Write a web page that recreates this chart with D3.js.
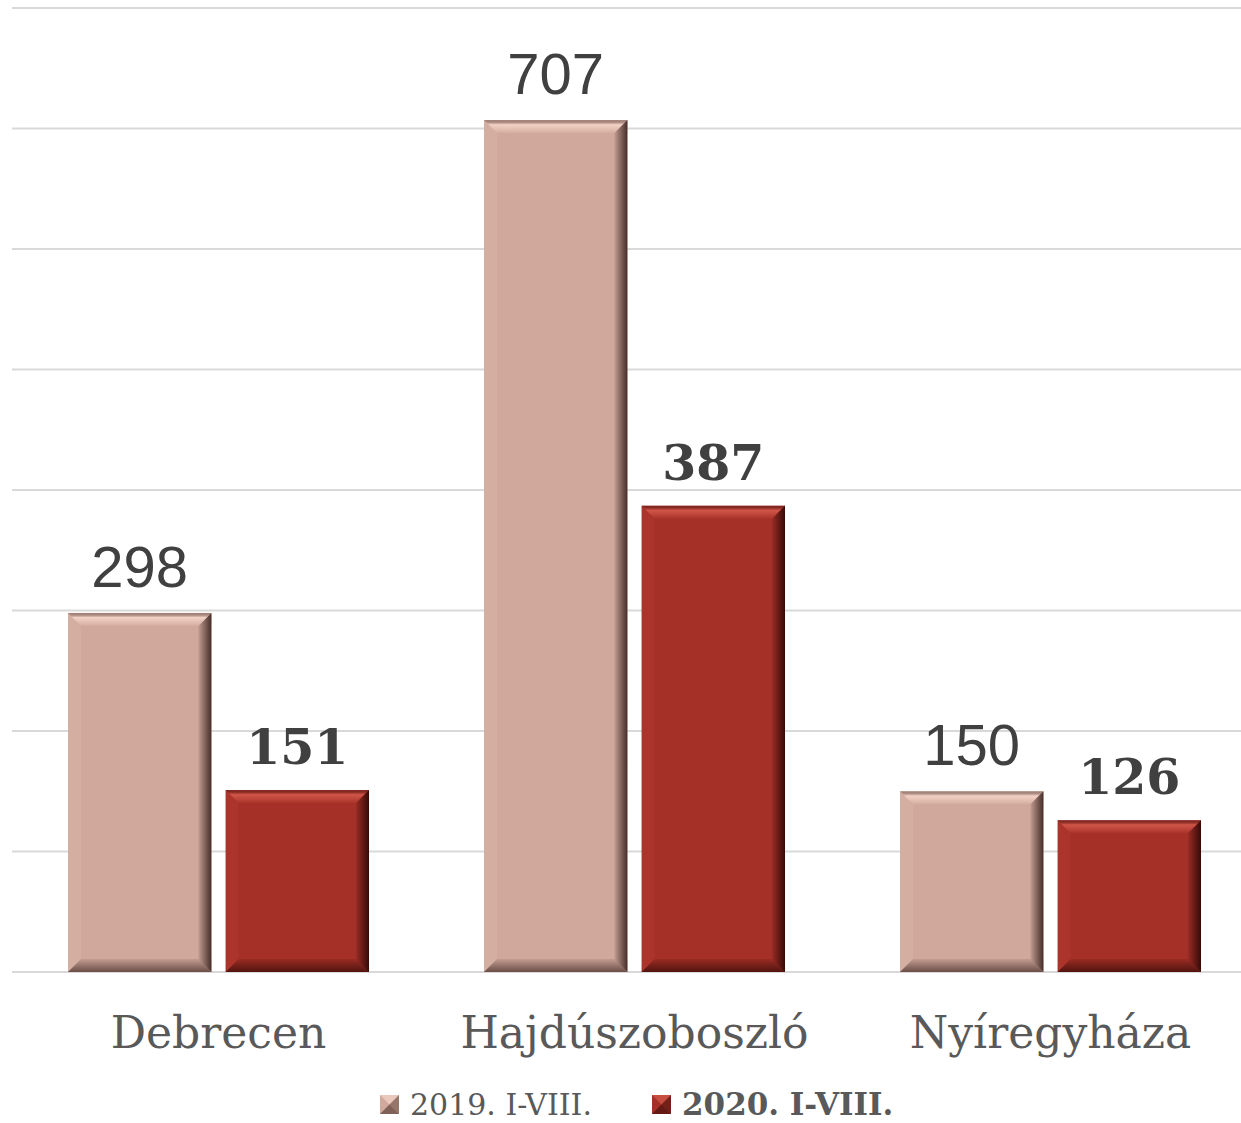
<!DOCTYPE html>
<html>
<head>
<meta charset="utf-8">
<script src="https://cdn.jsdelivr.net/npm/d3@7"></script>
<style>
  body { margin: 0; background: #fff; }
  svg { display: block; }
</style>
</head>
<body>
<svg id="chart" width="1241" height="1123"></svg>
<script>
// chart data
var cities = ["Debrecen", "Hajdúszoboszló", "Nyíregyháza"];
var seriesNames = ["2019. I-VIII.", "2020. I-VIII."];
var values2019 = [298, 707, 150];
var values2020 = [151, 387, 126];
var gridTicks = [0, 100, 200, 300, 400, 500, 600, 700, 800];

var colors = ["#d1a99c", "#a53027"];
var light = ["#f6d6ca", "#d65a4d"];
var dark = ["#3e2723", "#300806"];

var svg = d3.select("#chart");
var defs = svg.append("defs");

// gradients for the bevel sides
colors.forEach(function(c, i) {
  var gr = defs.append("linearGradient").attr("id", "right" + i).attr("x1", 0).attr("x2", 1).attr("y1", 0).attr("y2", 0);
  gr.append("stop").attr("offset", "0%").attr("stop-color", dark[i]).attr("stop-opacity", 0.1);
  gr.append("stop").attr("offset", "100%").attr("stop-color", dark[i]).attr("stop-opacity", 0.95);
  var gb = defs.append("linearGradient").attr("id", "bottom" + i).attr("x1", 0).attr("x2", 0).attr("y1", 0).attr("y2", 1);
  gb.append("stop").attr("offset", "0%").attr("stop-color", dark[i]).attr("stop-opacity", 0.1);
  gb.append("stop").attr("offset", "100%").attr("stop-color", dark[i]).attr("stop-opacity", 0.7);
  var gt = defs.append("linearGradient").attr("id", "top" + i).attr("x1", 0).attr("x2", 0).attr("y1", 0).attr("y2", 1);
  gt.append("stop").attr("offset", "0%").attr("stop-color", dark[i]).attr("stop-opacity", 0.3);
  gt.append("stop").attr("offset", "35%").attr("stop-color", light[i]).attr("stop-opacity", 0.9);
  gt.append("stop").attr("offset", "100%").attr("stop-color", light[i]).attr("stop-opacity", 0.1);
});

var x0 = d3.scaleBand().domain(cities).range([10.5, 1258.5]).paddingInner(0.2764).paddingOuter(0.1382);
var x1 = d3.scaleBand().domain(seriesNames).range([0, x0.bandwidth()]).paddingInner(0.09);
var y = d3.scaleLinear().domain([0, 800]).range([972, 8]);

// gridlines
svg.append("g").selectAll("line").data(gridTicks).enter().append("line")
  .attr("x1", 12).attr("x2", 1241)
  .attr("y1", function(d) { return y(d); }).attr("y2", function(d) { return y(d); })
  .attr("stroke", "#d9d9d9").attr("stroke-width", 2);

var rows = [];
cities.forEach(function(c, i) {
  rows.push({ city: c, s: 0, v: values2019[i] });
  rows.push({ city: c, s: 1, v: values2020[i] });
});

var bev = 13;
var bars = svg.append("g").selectAll("g").data(rows).enter().append("g")
  .attr("transform", function(d) { return "translate(" + (x0(d.city) + x1(seriesNames[d.s])) + ",0)"; });

bars.each(function(d) {
  var g = d3.select(this);
  var w = x1.bandwidth();
  var top = y(d.v), bot = y(0);
  g.append("rect").attr("x", 0).attr("y", top).attr("width", w).attr("height", bot - top)
    .attr("fill", colors[d.s]);
  var faces = [
    { pts: [[0, top], [w, top], [w - bev, top + bev], [bev, top + bev]], fill: "url(#top" + d.s + ")" },
    { pts: [[0, top], [bev, top + bev], [bev, bot - bev], [0, bot]], fill: light[d.s], op: 0.12 },
    { pts: [[0, bot], [w, bot], [w - bev, bot - bev], [bev, bot - bev]], fill: "url(#bottom" + d.s + ")" },
    { pts: [[w, top], [w, bot], [w - bev, bot - bev], [w - bev, top + bev]], fill: "url(#right" + d.s + ")" }
  ];
  faces.forEach(function(f) {
    g.append("polygon").attr("points", f.pts.map(function(p) { return p.join(","); }).join(" "))
      .attr("fill", f.fill).attr("opacity", f.op == null ? 1 : f.op);
  });
  // value label
  g.append("text").attr("x", w / 2).attr("y", top - 26)
    .attr("text-anchor", "middle")
    .attr("fill", "#404040")
    .style("font-family", d.s === 0 ? "'Liberation Sans', Arial, sans-serif" : "'DejaVu Serif', serif")
    .style("font-weight", d.s === 0 ? "normal" : "bold")
    .style("font-size", d.s === 0 ? "58px" : "49px")
    .text(d.v);
});

// category labels
svg.append("g").selectAll("text").data(cities).enter().append("text")
  .attr("x", function(d) { return x0(d) + x0.bandwidth() / 2; })
  .attr("y", 1048)
  .attr("text-anchor", "middle")
  .attr("fill", "#595959")
  .style("font-family", "'DejaVu Serif', serif")
  .style("font-size", "44px")
  .text(function(d) { return d; });

// legend
var legendX = [380, 652];
var leg = svg.append("g").selectAll("g").data(seriesNames).enter().append("g")
  .attr("transform", function(d, i) { return "translate(" + legendX[i] + ",1095)"; });
leg.append("rect").attr("width", 19).attr("height", 19).attr("fill", function(d, i) { return colors[i]; });
leg.append("polygon").attr("points", "0,0 19,0 9.5,9.5").attr("fill", function(d, i) { return light[i]; }).attr("opacity", 0.7);
leg.append("polygon").attr("points", "19,0 19,19 9.5,9.5").attr("fill", function(d, i) { return dark[i]; }).attr("opacity", 0.4);
leg.append("polygon").attr("points", "0,19 19,19 9.5,9.5").attr("fill", function(d, i) { return dark[i]; }).attr("opacity", 0.55);
leg.append("text").attr("x", 30).attr("y", 20)
  .attr("fill", "#595959")
  .style("font-family", "'DejaVu Serif', serif")
  .style("font-size", function(d, i) { return i === 1 ? "31px" : "30px"; })
  .style("font-weight", function(d, i) { return i === 1 ? "bold" : "normal"; })
  .text(function(d) { return d; });
</script>
</body>
</html>
